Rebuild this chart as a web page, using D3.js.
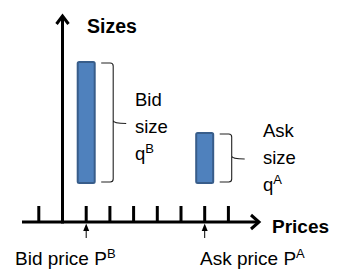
<!DOCTYPE html>
<html>
<head>
<meta charset="utf-8">
<script src="https://cdn.jsdelivr.net/npm/d3@7"></script>
<style>
html,body{margin:0;padding:0;background:#fff;}
svg{display:block;}
text{font-family:Arial,"Liberation Sans",sans-serif;}
</style>
</head>
<body>
<svg id="chart" width="350" height="278"></svg>
<script>
// Data
const tickPositions = [-1, 1, 2, 3, 4, 5, 6, 7];
const categories = ["Bid", "Ask"];
const pricePositions = [1, 6];
const sizes = [12.1, 5];
const sizeLabels = [["Bid", "size", "q"], ["Ask", "size", "q"]];
const superscripts = ["B", "A"];
const priceLabels = ["Bid price P", "Ask price P"];
const axisTitles = ["Sizes", "Prices"];

const svg = d3.select("#chart");
const x = d3.scaleLinear().domain([0, 8]).range([62.5, 62.5 + 8 * 23.7]);
const y = d3.scaleLinear().domain([0, 10]).range([183, 83]);
const axisY = 222;

// x axis line
svg.append("line").attr("x1", 22).attr("x2", 259).attr("y1", axisY).attr("y2", axisY)
  .attr("stroke", "#000").attr("stroke-width", 3);
svg.append("path").attr("d", `M251,${axisY-7} L259,${axisY} L251,${axisY+7}`)
  .attr("fill", "none").attr("stroke", "#000").attr("stroke-width", 3).attr("stroke-linejoin", "miter");
// y axis line
svg.append("line").attr("x1", x(0)).attr("x2", x(0)).attr("y1", axisY + 1.5).attr("y2", 16)
  .attr("stroke", "#000").attr("stroke-width", 3);
svg.append("path").attr("d", `M${x(0)-6},24 L${x(0)},16 L${x(0)+6},24`)
  .attr("fill", "none").attr("stroke", "#000").attr("stroke-width", 3);

// ticks
svg.selectAll(".tick").data(tickPositions).enter().append("line")
  .attr("x1", d => x(d)).attr("x2", d => x(d))
  .attr("y1", 206).attr("y2", axisY)
  .attr("stroke", "#000").attr("stroke-width", 3);

// bars
const bw = 17;
svg.selectAll(".bar").data(sizes).enter().append("rect")
  .attr("x", (d, i) => x(pricePositions[i]) - bw / 2)
  .attr("y", d => y(d))
  .attr("width", bw)
  .attr("height", d => y(0) - y(d))
  .attr("rx", 1.5)
  .attr("fill", "#4f81bd").attr("stroke", "#385d8a").attr("stroke-width", 2);

// brackets
function brace(x0, top, bot, tip) {
  const xv = x0 + 12, mid = (top + bot) / 2 + 1;
  return `M${x0},${top} L${xv-3},${top} Q${xv},${top} ${xv},${top+3} L${xv},${mid-3} Q${xv},${mid} ${tip},${mid}` +
         ` M${xv},${mid-3} Q${xv},${mid} ${xv},${mid+3}` +
         ` M${xv},${mid+3} L${xv},${bot-3} Q${xv},${bot} ${xv-3},${bot} L${x0},${bot}`;
}
sizes.forEach((d, i) => {
  const x0 = x(pricePositions[i]) + 15;
  svg.append("path").attr("d", brace(x0, y(d) + 1, y(0) - 1, x0 + 25))
    .attr("fill", "none").attr("stroke", "#222").attr("stroke-width", 1.1);
});

// size labels
const labelX = [135, 263];
const labelY0 = [106, 137];
sizeLabels.forEach((lines, i) => {
  lines.forEach((t, j) => {
    const tx = svg.append("text").attr("x", labelX[i]).attr("y", labelY0[i] + j * 27)
      .attr("font-size", 18.5).attr("fill", "#000").text(t);
    if (j === 2) {
      tx.append("tspan").attr("font-size", 13).attr("dy", -7).text(superscripts[i]);
    }
  });
});

// price labels with small arrows
pricePositions.forEach((p, i) => {
  const px = x(p);
  svg.append("line").attr("x1", px).attr("x2", px).attr("y1", 238).attr("y2", 228)
    .attr("stroke", "#000").attr("stroke-width", 1);
  svg.append("path").attr("d", `M${px-3},231 L${px},223.5 L${px+3},231 Z`).attr("fill", "#000");
  const tx = svg.append("text").attr("x", i === 0 ? 15 : 200).attr("y", 265)
    .attr("font-size", 19).attr("fill", "#000").text(priceLabels[i]);
  tx.append("tspan").attr("font-size", 13).attr("dy", -7).text(superscripts[i]);
});

// axis titles
svg.append("text").attr("x", 87).attr("y", 33).attr("font-size", 19.5).attr("font-weight", "bold").text(axisTitles[0]);
svg.append("text").attr("x", 272).attr("y", 233).attr("font-size", 19).attr("font-weight", "bold").text(axisTitles[1]);
</script>
</body>
</html>
